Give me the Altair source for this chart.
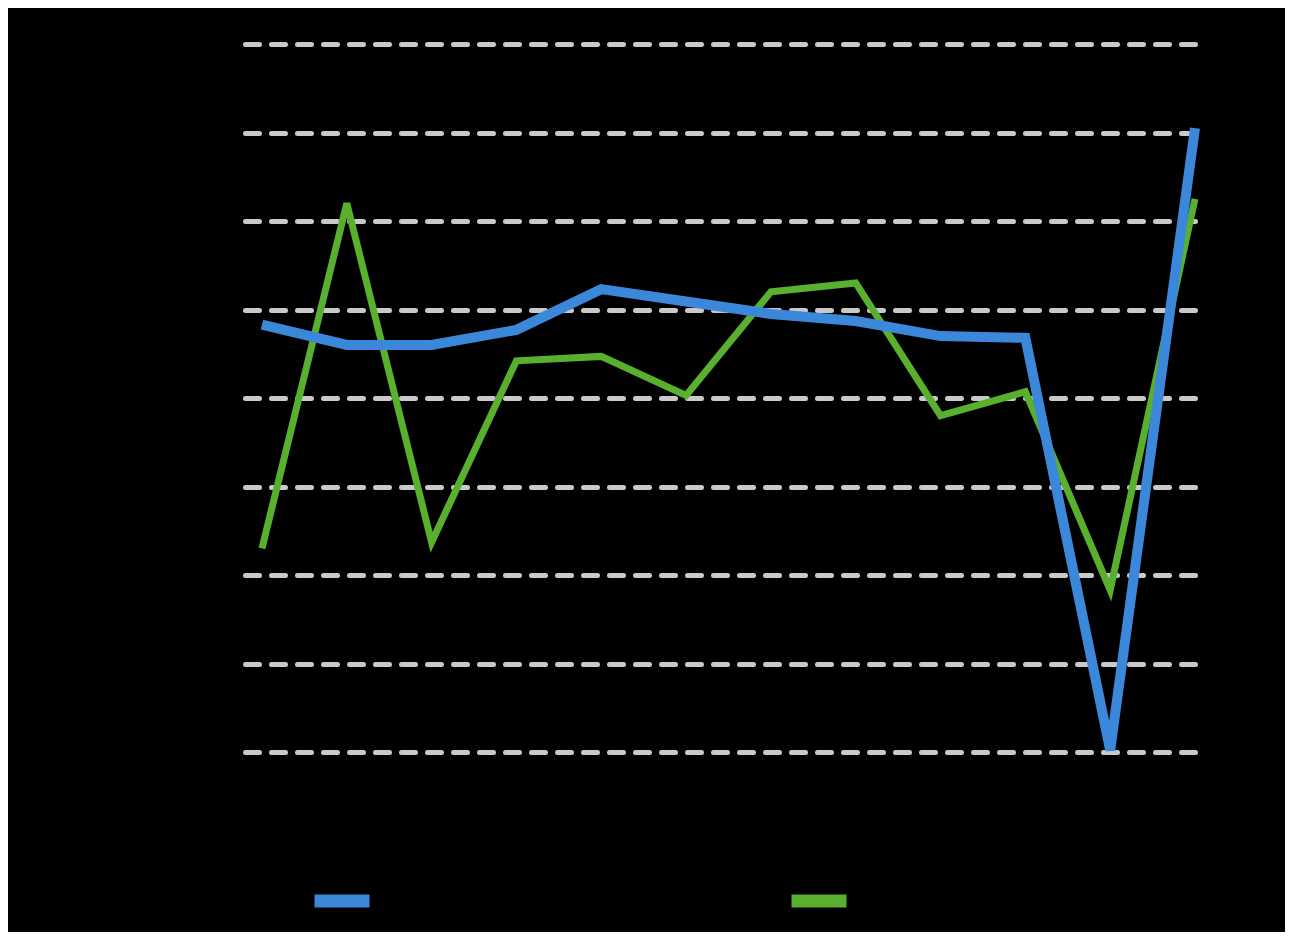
import altair as alt
import pandas as pd

points = list(range(12))
series_a = [4.83, 4.6, 4.6, 4.77, 5.23, 5.09, 4.95, 4.87, 4.7, 4.68, 0.02, 7.05]
series_b = [2.3, 6.2, 2.37, 4.42, 4.47, 4.03, 5.2, 5.3, 3.8, 4.07, 1.83, 6.25]
names = ["Series 1", "Series 2"]
colors = ["#3b87d9", "#58b02e"]

rows = []
for name, vals in [(names[1], series_b), (names[0], series_a)]:
    for p, v in zip(points, vals):
        rows.append({"point": p, "value": v, "series": name})
df = pd.DataFrame(rows)

x = alt.X("point:Q", scale=alt.Scale(domain=[-0.2, 11.0], nice=False, zero=False), axis=None)
y = alt.Y("value:Q", scale=alt.Scale(domain=[0, 8], nice=False),
          axis=alt.Axis(values=list(range(9)), grid=True, domain=False, ticks=False,
                        labels=False, title=None, gridColor="#c9c9c9", gridWidth=5,
                        gridDash=[14, 12], gridCap="round"))
color = alt.Color("series:N", scale=alt.Scale(domain=names, range=colors),
                  legend=alt.Legend(orient="none", legendX=63, legendY=823, direction="horizontal",
                                    title=None, symbolType="stroke",
                                    symbolSize=3025, symbolStrokeWidth=13, labelColor="#000000",
                                    labelFontSize=14, columnPadding=329, labelOffset=8))

green = alt.Chart(df[df.series == names[1]]).mark_line(strokeWidth=7, strokeJoin="miter").encode(
    x=x, y=y, color=color)
blue = alt.Chart(df[df.series == names[0]]).mark_line(strokeWidth=10, strokeJoin="miter").encode(
    x=x, y=y, color=color)

chart = alt.layer(green, blue).properties(
    width=950, height=708, background="#000000",
    autosize=alt.AutoSizeParams(type="none"),
    padding={"left": 237, "top": 36, "right": 90, "bottom": 180},
).configure_view(stroke=None)

chart.save("out.html", embed_options={"renderer": "svg", "actions": False})
